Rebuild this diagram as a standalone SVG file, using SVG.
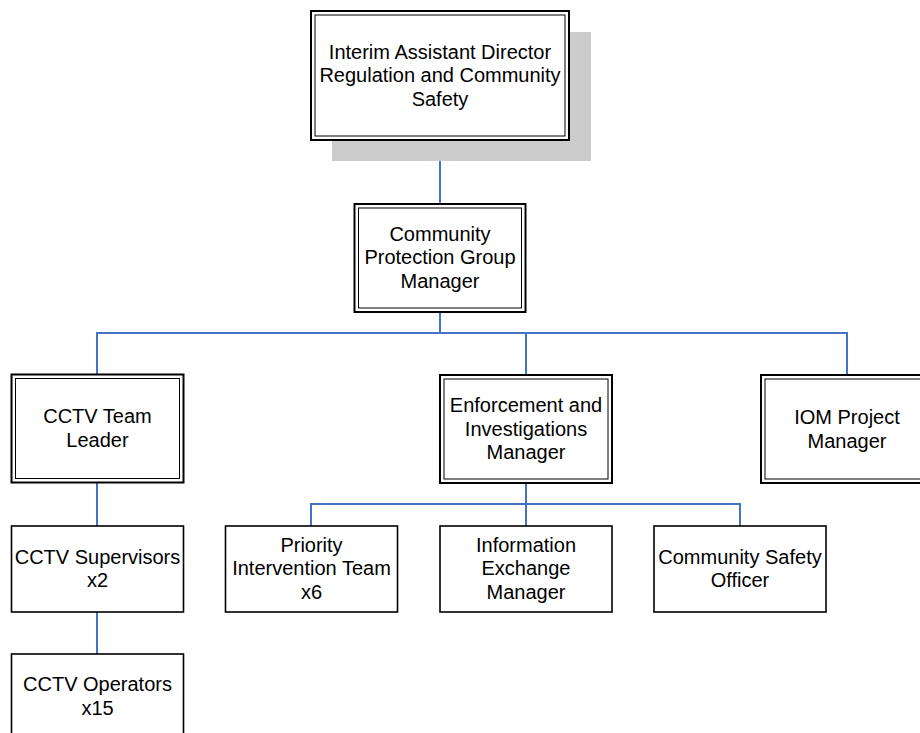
<svg xmlns="http://www.w3.org/2000/svg" width="920" height="733" viewBox="0 0 920 733">
<style>
.bg{fill:#ffffff}
.shadow{fill:#cccccc;stroke:none}
.outer{fill:#ffffff;stroke:#000000;stroke-width:2}
.inner{fill:none;stroke:#000000;stroke-width:1}
.single{fill:#ffffff;stroke:#000000;stroke-width:1.6}
.lbl{font-family:"Liberation Sans",Arial,sans-serif;font-size:20px;fill:#000000;text-anchor:middle}
.conn{fill:none;stroke:#4472C4;stroke-width:2}
</style>
<rect class="bg" x="0" y="0" width="920" height="733"/>
<g id="connectors">
<path class="conn" d="M440,140 V204"/>
<path class="conn" d="M440,312 V333 M97,374 V333 H847 V375 M526,333 V375"/>
<path class="conn" d="M526,483 V526 M311,526 V504 H740 V526"/>
<path class="conn" d="M97,483 V526 M97,612 V654"/>
</g>
<g id="n-director">
<rect class="shadow" x="332" y="32" width="259" height="129"/>
<rect class="outer" x="311" y="11" width="258" height="129"/>
<rect class="inner" x="315" y="15" width="250" height="121"/>
<text class="lbl" x="440" y="58.8">Interim Assistant Director</text>
<text class="lbl" x="440" y="82.3">Regulation and Community</text>
<text class="lbl" x="440" y="105.8">Safety</text>
</g>
<g id="n-cpgm">
<rect class="outer" x="354.5" y="204" width="171" height="108"/>
<rect class="inner" x="358.5" y="208" width="163" height="100"/>
<text class="lbl" x="440" y="240.5">Community</text>
<text class="lbl" x="440" y="264">Protection Group</text>
<text class="lbl" x="440" y="287.5">Manager</text>
</g>
<g id="n-cctv-tl">
<rect class="outer" x="11.5" y="374.5" width="172" height="108"/>
<rect class="inner" x="15.5" y="378.5" width="164" height="100"/>
<text class="lbl" x="97.5" y="423.3">CCTV Team</text>
<text class="lbl" x="97.5" y="446.8">Leader</text>
</g>
<g id="n-enf">
<rect class="outer" x="440" y="375" width="172" height="108"/>
<rect class="inner" x="444" y="379" width="164" height="100"/>
<text class="lbl" x="526" y="412.3">Enforcement and</text>
<text class="lbl" x="526" y="435.8">Investigations</text>
<text class="lbl" x="526" y="459.3">Manager</text>
</g>
<g id="n-iom">
<rect class="outer" x="761" y="375" width="172" height="108"/>
<rect class="inner" x="765" y="379" width="164" height="100"/>
<text class="lbl" x="847" y="424">IOM Project</text>
<text class="lbl" x="847" y="447.5">Manager</text>
</g>
<g id="n-cctv-sup">
<rect class="single" x="11.5" y="526" width="172" height="86"/>
<text class="lbl" x="97.5" y="563.5">CCTV Supervisors</text>
<text class="lbl" x="97.5" y="587">x2</text>
</g>
<g id="n-cctv-op">
<rect class="single" x="11.5" y="654" width="172" height="86"/>
<text class="lbl" x="97.5" y="691">CCTV Operators</text>
<text class="lbl" x="97.5" y="714.5">x15</text>
</g>
<g id="n-pit">
<rect class="single" x="225.5" y="526" width="172" height="86"/>
<text class="lbl" x="311.5" y="551.8">Priority</text>
<text class="lbl" x="311.5" y="575.3">Intervention Team</text>
<text class="lbl" x="311.5" y="598.8">x6</text>
</g>
<g id="n-iem">
<rect class="single" x="440" y="526" width="172" height="86"/>
<text class="lbl" x="526" y="551.8">Information</text>
<text class="lbl" x="526" y="575.3">Exchange</text>
<text class="lbl" x="526" y="598.8">Manager</text>
</g>
<g id="n-cso">
<rect class="single" x="654" y="526" width="172" height="86"/>
<text class="lbl" x="740" y="563.5">Community Safety</text>
<text class="lbl" x="740" y="587">Officer</text>
</g>
</svg>
